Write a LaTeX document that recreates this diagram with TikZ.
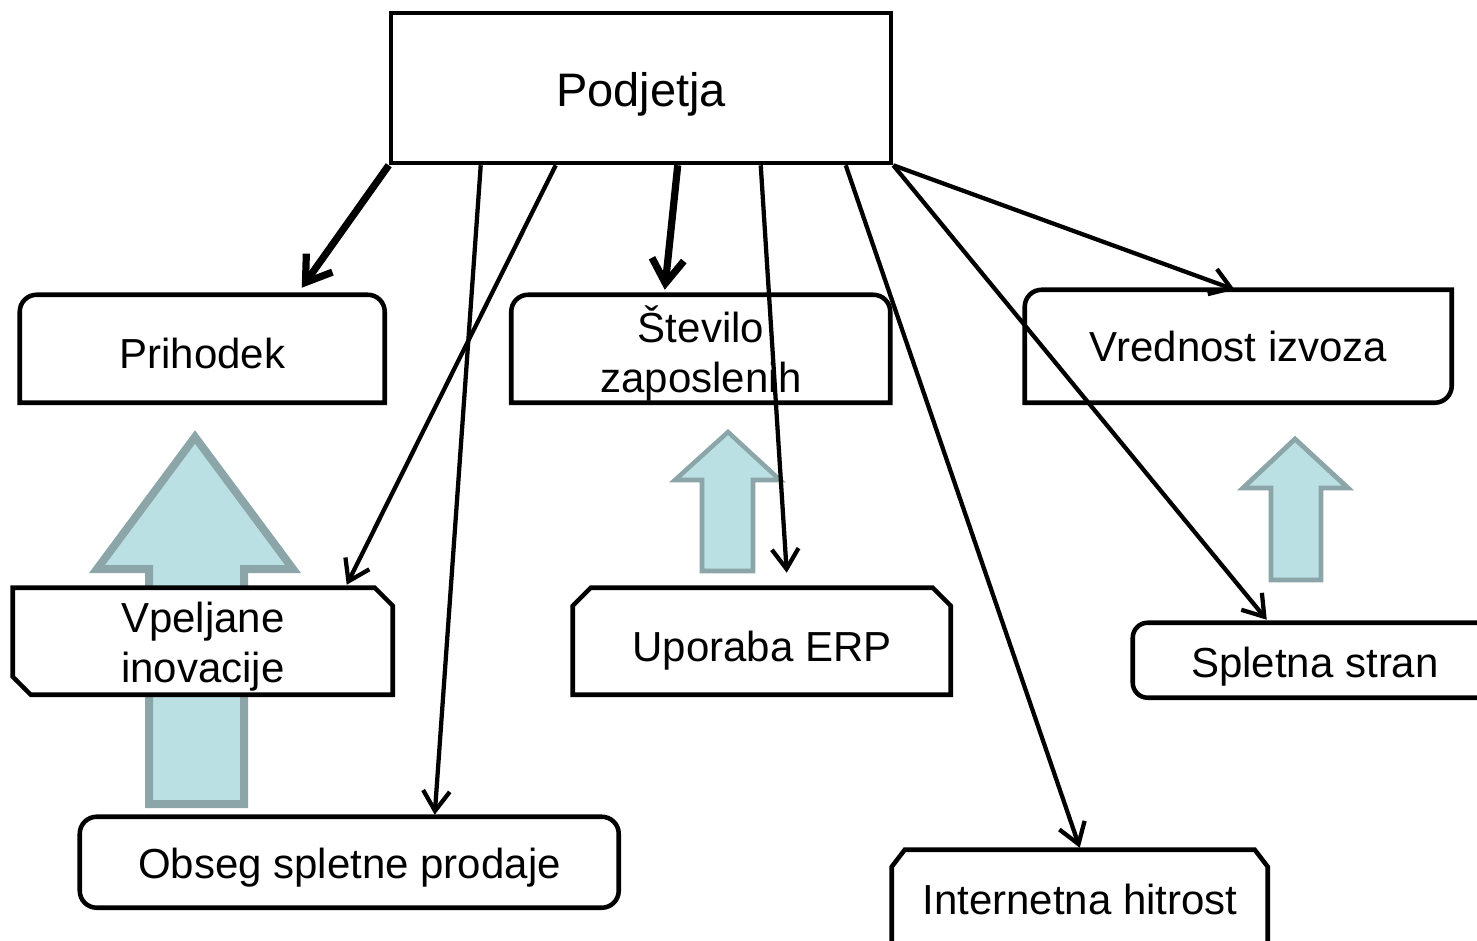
\documentclass[tikz,border=0pt]{standalone}
\usepackage{fontspec}
\setmainfont{Liberation Sans}
\usetikzlibrary{arrows.meta,calc}
\pgfdeclarelayer{bg}
\pgfsetlayers{bg,main}
\definecolor{afill}{RGB}{186,224,227}
\definecolor{aline}{RGB}{139,165,168}
\begin{document}
\begin{tikzpicture}[x=0.75pt,y=-0.75pt,
  txt/.style={font=\fontsize{31.5}{37.5}\selectfont, inner sep=0pt},
  box/.style n args={3}{txt, minimum width=#1, minimum height=#2, text height=#3, text depth=0pt},
  outl/.style={draw=black, fill=white, line width=3.4pt, line join=miter},
  blk/.style={draw=aline, fill=afill, line join=miter},
  thinc/.style={line width=3.2pt, -{Straight Barb[length=15pt,width=20pt]}},
  thickc/.style={line width=5.4pt, -{Straight Barb[length=18pt,width=24pt]}}]
\useasboundingbox (0,0) rectangle (1477,941);

% nodes (text)
\node[box={375pt}{112.5pt}{28.5pt}, font=\fontsize{35.25}{42}\selectfont, draw, line width=3.4pt, fill=white] (pod) at (641,88) {Podjetja};
\node[box={273.75pt}{81pt}{28.5pt}] (pri) at (202.5,349) {Prihodek};
\node[txt, minimum width=284.25pt, minimum height=81pt, align=center] (ste) at (701,349) {\rule{0pt}{35pt}Število\\zaposlenih};
\node[box={320.25pt}{84.75pt}{21.75pt}] (vre) at (1238.5,346.5) {Vrednost izvoza};
\node[txt, minimum width=285pt, minimum height=80.25pt, align=center] (vpe) at (203,641.5) {\rule{0pt}{30.5pt}Vpeljane\\inovacije};
\node[box={283.5pt}{80.25pt}{29.25pt}] (upo) at (762,641.5) {Uporaba ERP};
\node[box={273pt}{56.25pt}{24.75pt}] (spl) at (1315,660.5) {Spletna stran};
\node[box={404.25pt}{68.25pt}{23.25pt}] (obs) at (349.5,862.5) {Obseg spletne prodaje};
\node[box={282pt}{82.5pt}{13.5pt}] (int) at (1080,905) {Internetna hitrost};

\begin{pgfonlayer}{bg}
\begin{scope}
\clip (0,0) rectangle (1477,941);
% block arrows
\draw[blk, line width=6pt] (195,437) -- (293,569) -- (244,569) -- (244,804) -- (149,804) -- (149,569) -- (97,569) -- cycle;
\draw[blk, line width=3.4pt] (728,432) -- (780,480) -- (753,480) -- (753,571) -- (702,571) -- (702,480) -- (675,480) -- cycle;
\draw[blk, line width=3.6pt] (1295,439) -- (1348,488) -- (1321,488) -- (1321,580) -- (1271,580) -- (1271,488) -- (1243,488) -- cycle;
% box outlines
\draw[outl, shift={(pri.north west)}] (0,108) -- (0,17) .. controls (0,7.6) and (7.6,0) .. (17,0) -- (348,0) .. controls (357.4,0) and (365,7.6) .. (365,17) -- (365,108) -- cycle;
\draw[outl, shift={(ste.north west)}] (0,108) -- (0,17) .. controls (0,7.6) and (7.6,0) .. (17,0) -- (362,0) .. controls (371.4,0) and (379,7.6) .. (379,17) -- (379,108) -- cycle;
\draw[outl, shift={(vre.north west)}] (0,113) -- (0,17) .. controls (0,7.6) and (7.6,0) .. (17,0) -- (427,0) -- (427,96) .. controls (427,105.4) and (419.4,113) .. (410,113) -- cycle;
\draw[outl, shift={(vpe.north west)}] (0,0) -- (362,0) -- (380,18) -- (380,107) -- (18,107) -- (0,89) -- cycle;
\draw[outl, shift={(upo.north west)}] (0,107) -- (0,18) -- (18,0) -- (360,0) -- (378,18) -- (378,107) -- cycle;
\draw[outl, shift={(spl.north west)}] (364,0) -- (15,0) .. controls (6.7,0) and (0,6.7) .. (0,15) -- (0,60) .. controls (0,68.3) and (6.7,75) .. (15,75) -- (364,75) -- cycle;
\draw[outl, shift={(obs.north west)}] (0,17) .. controls (0,7.6) and (7.6,0) .. (17,0) -- (522,0) .. controls (531.4,0) and (539,7.6) .. (539,17) -- (539,74) .. controls (539,83.4) and (531.4,91) .. (522,91) -- (17,91) .. controls (7.6,91) and (0,83.4) .. (0,74) -- cycle;
\draw[outl, shift={(int.north west)}] (0,110) -- (0,17) -- (13,0) -- (363,0) -- (376,17) -- (376,110) -- cycle;
\end{scope}
\end{pgfonlayer}

% connectors
\draw[thickc] (pod.south west) -- ($(pri.north west)+(282,-7)$);
\draw[thinc] ($(pod.south west)+(92,0)$) -- ($(obs.north west)+(355,-2)$);
\draw[thinc] ($(pod.south west)+(167,0)$) -- ($(vpe.north west)+(334,-3)$);
\draw[thickc] ($(pod.south west)+(289,0)$) -- ($(ste.north west)+(153.5,-5)$);
\draw[thinc] ($(pod.south west)+(372,0)$) -- ($(upo.north west)+(214,-15)$);
\draw[thinc] ($(pod.south west)+(457,0)$) -- ($(int.north west)+(188,-2)$);
\draw[thinc] (pod.south east) -- ($(spl.north west)+(134,-3)$);
\draw[thinc] (pod.south east) -- ($(vre.north west)+(210,0)$);
\end{tikzpicture}
\end{document}
